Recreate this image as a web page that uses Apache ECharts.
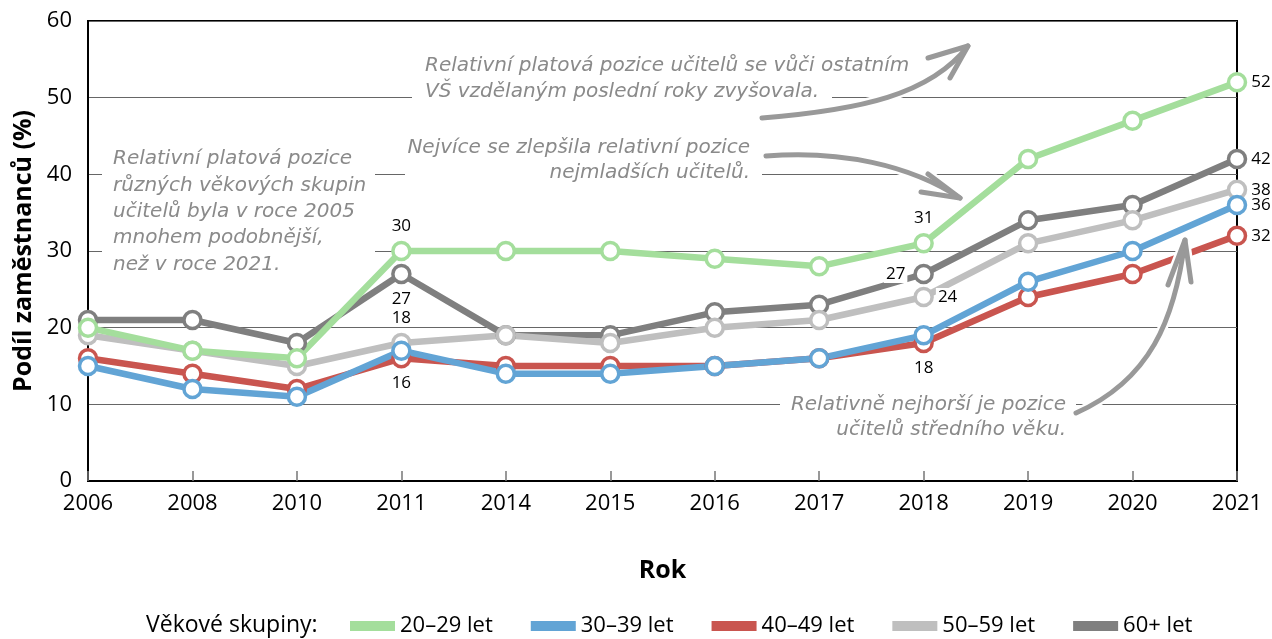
<!DOCTYPE html>
<html><head><meta charset="utf-8">
<script src="https://cdn.jsdelivr.net/npm/echarts@6/dist/echarts.min.js"></script>
<style>html,body{margin:0;padding:0;background:#fff}#c{width:1272px;height:639px}</style>
</head><body><div id="c"></div>
<script>
// ---- data ----
const years = ['2006','2008','2010','2011','2014','2015','2016','2017','2018','2019','2020','2021'];
const yMin = 0, yMax = 60, yStep = 10;
const names = ['20–29 let','30–39 let','40–49 let','50–59 let','60+ let'];
const v20 = [20,17,16,30,30,30,29,28,31,42,47,52];
const v30 = [15,12,11,17,14,14,15,16,19,26,30,36];
const v40 = [16,14,12,16,15,15,15,16,18,24,27,32];
const v50 = [19,17,15,18,19,18,20,21,24,31,34,38];
const v60 = [21,21,18,27,19,19,22,23,27,34,36,42];
// which points carry a value label, and where
const lab20 = {3:'top', 8:'top', 11:'right'};
const lab30 = {11:'right'};
const lab40 = {3:'bottom', 8:'bottom', 11:'right'};
const lab50 = {3:'top', 8:'right', 11:'right'};
const lab60 = {3:'bottom', 8:'left', 11:'right'};
const colors = {'20–29 let':'#a4de9c','30–39 let':'#62a4d5','40–49 let':'#c9554f','50–59 let':'#bfbfbf','60+ let':'#7f7f7f'};
const legendTitle = 'Věkové skupiny:';
const notes = {
  left: ['Relativní platová pozice','různých věkových skupin','učitelů byla v roce 2005','mnohem podobnější,','než v roce 2021.'],
  top: ['Relativní platová pozice učitelů se vůči ostatním','VŠ vzdělaným poslední roky zvyšovala.'],
  mid: ['Nejvíce se zlepšila relativní pozice','nejmladších učitelů.'],
  bot: ['Relativně nejhorší je pozice','učitelů středního věku.']
};

const FONT = 'Open Sans';
const NOTE_FONT = 'DejaVu Sans';
const chart = echarts.init(document.getElementById('c'), null, {renderer:'canvas'});

function mkSeries(name, vals, labs){
  const c = colors[name];
  return {
    name, type:'line',
    data: vals.map((v,i)=> labs[i] ? {value:v, label:{show:true, position:labs[i], distance: labs[i]==='right' ? 2 : 6}} : v),
    symbol:'circle', symbolSize:17, showAllSymbol:true,
    lineStyle:{color:c, width:6.5},
    itemStyle:{color:'#fff', borderColor:c, borderWidth:3.5},
    label:{show:false, color:'#000', fontFamily:FONT, fontSize:17, lineHeight:18, distance:6,
           backgroundColor:'#fff', padding:[0,2]},
    emphasis:{disabled:true}, z:2
  };
}

function noteText(lines, x, y, align, lh){
  return {type:'text', z:5, style:{text:lines.join('\n'), x, y, align, verticalAlign:'top',
    fill:'#8a8a8a', font:'oblique 20px "'+NOTE_FONT+'"', lineHeight:lh}};
}
function whiteRect(x,y,w,h){ return {type:'rect', z:1, shape:{x,y,width:w,height:h}, style:{fill:'#fff'}}; }
function arrow(shape, head){
  const els = [];
  els.push({type:'bezierCurve', z:9, shape, style:{stroke:'#fff', lineWidth:10, fill:null, lineCap:'round'}});
  els.push({type:'polyline', z:9, shape:{points:head}, style:{stroke:'#fff', lineWidth:10, fill:null, lineCap:'round', lineJoin:'round'}});
  els.push({type:'bezierCurve', z:10, shape, style:{stroke:'#999', lineWidth:5, fill:null, lineCap:'round'}});
  els.push({type:'polyline', z:10, shape:{points:head}, style:{stroke:'#999', lineWidth:5, fill:null, lineCap:'round', lineJoin:'round'}});
  return els;
}

const graphic = [
  whiteRect(102,145,273,130),
  whiteRect(412,82,420,24),
  whiteRect(405,161,357,24),
  whiteRect(780,392,296,24),
  noteText(notes.left, 113, 146, 'left', 26.3),
  noteText(notes.top, 425, 53, 'left', 26),
  noteText(notes.mid, 750, 135, 'right', 25),
  noteText(notes.bot, 1066, 392, 'right', 25),
  ...arrow({x1:762,y1:118,cpx1:860,cpy1:110,cpx2:930,cpy2:95,x2:968,y2:46}, [[928,58],[968,46],[950,78]]),
  ...arrow({x1:766,y1:156,cpx1:840,cpy1:150,cpx2:910,cpy2:165,x2:960,y2:198}, [[928,174],[960,198],[921,192]]),
  ...arrow({x1:1076,y1:413,cpx1:1150,cpy1:380,cpx2:1175,cpy2:320,x2:1185,y2:240}, [[1168,285],[1185,240],[1191,282]])
];

const option = {
  animation:false,
  backgroundColor:'#fff',
  title:{text:legendTitle, left:146, top:614, padding:0, textStyle:{fontFamily:FONT, fontSize:23, fontWeight:'normal', color:'#000'}},
  legend:{data:names.map(n=>({name:n, itemStyle:{color:colors[n], borderWidth:0}})),
          left:350, top:615, padding:0, icon:'rect', itemWidth:45, itemHeight:10, itemGap:38,
          itemStyle:{borderWidth:0}, textStyle:{fontFamily:FONT, fontSize:22, color:'#000'}},
  grid:{left:88, right:35, top:21, bottom:158, show:true, borderColor:'#000', borderWidth:2, backgroundColor:'transparent'},
  xAxis:{type:'category', data:years, boundaryGap:false,
    name:'Rok', nameLocation:'middle', nameGap:77,
    nameTextStyle:{fontFamily:FONT, fontSize:25, fontWeight:'bold', color:'#000'},
    axisLine:{lineStyle:{color:'#000', width:2}},
    axisTick:{inside:true, length:10, lineStyle:{color:'#777', width:1.5}},
    axisLabel:{fontFamily:FONT, fontSize:22, color:'#000', margin:12},
    splitLine:{show:false}},
  yAxis:{type:'value', min:yMin, max:yMax, interval:yStep,
    name:'Podíl zaměstnanců (%)', nameLocation:'middle', nameGap:52,
    nameTextStyle:{fontFamily:FONT, fontSize:25, fontWeight:'bold', color:'#000'},
    axisLine:{show:true, lineStyle:{color:'#000', width:2}},
    axisTick:{show:false},
    axisLabel:{fontFamily:FONT, fontSize:22, color:'#000', margin:16},
    splitLine:{show:true, lineStyle:{color:'#666', width:1.2}}},
  graphic,
  series:[
    mkSeries('60+ let', v60, lab60),
    mkSeries('50–59 let', v50, lab50),
    mkSeries('40–49 let', v40, lab40),
    mkSeries('30–39 let', v30, lab30),
    mkSeries('20–29 let', v20, lab20)
  ]
};
chart.setOption(option);
</script></body></html>
